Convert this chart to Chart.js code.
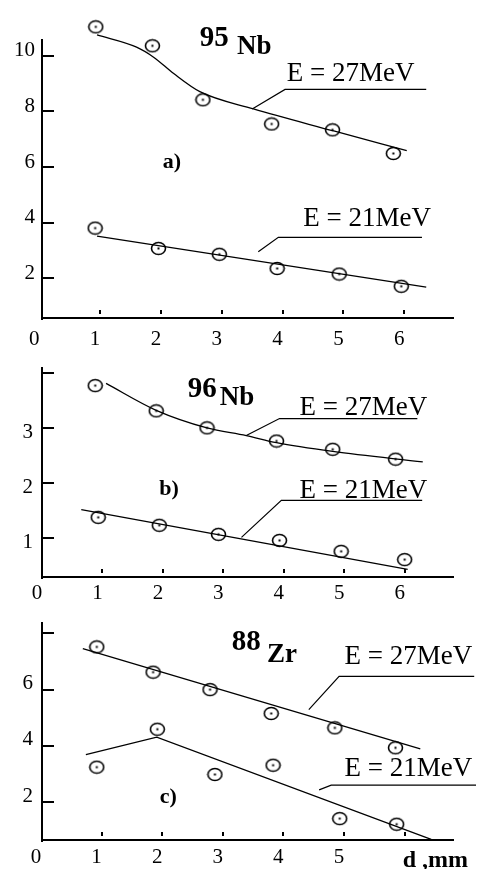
<!DOCTYPE html>
<html>
<head>
<meta charset="utf-8">
<script src="https://cdn.jsdelivr.net/npm/chart.js@4.4.1/dist/chart.umd.min.js"></script>
<style>
  html, body { margin: 0; padding: 0; background: #fff; }
  #wrap { position: relative; width: 480px; height: 869px; overflow: hidden; }
  canvas { position: absolute; left: 0; }
</style>
</head>
<body>
<div id="wrap">
  <canvas id="chartA" width="480" height="345" style="top:0"></canvas>
  <canvas id="chartB" width="480" height="255" style="top:345px"></canvas>
  <canvas id="chartC" width="480" height="269" style="top:600px"></canvas>
</div>
<script>
// a) 95Nb
const a27X = [0.93, 1.86, 2.69, 3.82, 4.82, 5.82];
const a27Y = [11.04, 10.36, 8.42, 7.55, 7.34, 6.49];
const a21X = [0.92, 1.96, 2.96, 3.91, 4.93, 5.95];
const a21Y = [3.81, 3.08, 2.87, 2.36, 2.16, 1.72];
const a27FitX = [0.95, 1.6, 1.88, 2.21, 2.64, 3.52, 4.84, 6.04];
const a27FitY = [10.75, 10.31, 9.95, 9.36, 8.71, 8.09, 7.3, 6.59];
const a21FitX = [0.95, 6.36];
const a21FitY = [3.52, 1.69];

// b) 96Nb
const b27X = [0.88, 1.89, 2.73, 3.88, 4.81, 5.85];
const b27Y = [3.77, 3.31, 3.0, 2.76, 2.61, 2.43];
const b21X = [0.93, 1.94, 2.92, 3.93, 4.95, 6.0];
const b21Y = [1.37, 1.225, 1.06, 0.95, 0.75, 0.6];
const b27FitX = [1.06, 1.89, 2.73, 3.38, 3.88, 4.81, 6.3];
const b27FitY = [3.81, 3.32, 3.0, 2.86, 2.73, 2.57, 2.38];
const b21FitX = [0.65, 6.05];
const b21FitY = [1.51, 0.42];

// c) 88Zr
const c27X = [0.92, 1.85, 2.79, 3.8, 4.85, 5.85];
const c27Y = [7.52, 6.62, 6.0, 5.15, 4.64, 3.93];
const c21X = [0.92, 1.92, 2.87, 3.83, 4.93, 5.87];
const c21Y = [3.24, 4.59, 2.98, 3.31, 1.41, 1.21];
const c27FitX = [0.69, 6.26];
const c27FitY = [7.46, 3.89];
const c21FitX = [0.74, 1.91, 6.44];
const c21FitY = [3.69, 4.31, 0.67];

// ticks
const xMarks = [1, 2, 3, 4, 5, 6];
const abXLabels = [0, 1, 2, 3, 4, 5, 6];
const cXLabels = [0, 1, 2, 3, 4, 5];
const aYTicks = [2, 4, 6, 8, 10];
const aYLabels = [2, 4, 6, 8, 10];
const bYTicks = [1, 2, 3, 4];
const bYLabels = [1, 2, 3];
const cYTicks = [2, 4, 6, 8];
const cYLabels = [2, 4, 6];

const serif = '"Liberation Serif", "DejaVu Serif", serif';

function pts(xs, ys) {
    return xs.map((x, i) => ({ x: x, y: ys[i] }));
}

function makeMarker() {
    const c = document.createElement('canvas');
    c.width = 17; c.height = 15;
    const g = c.getContext('2d');
    g.strokeStyle = '#000';
    g.lineWidth = 1.6;
    g.beginPath();
    g.ellipse(8.5, 7.5, 7, 6, 0, 0, Math.PI * 2);
    g.stroke();
    g.fillStyle = '#000';
    g.fillRect(7.5, 6.5, 2, 2);
    return c;
}
const marker = makeMarker();

function lineDs(xs, ys, curved) {
    return {
        data: pts(xs, ys), showLine: true, pointRadius: 0,
        borderColor: '#000', borderWidth: 1.3,
        cubicInterpolationMode: curved ? 'monotone' : 'default',
        tension: 0, clip: false
    };
}

function markDs(xs, ys) {
    return {
        data: pts(xs, ys), showLine: false,
        pointStyle: marker, pointRadius: 7, clip: false
    };
}

function makePanel(id, cfg) {
    const deco = {
        id: 'deco_' + id,
        afterDraw(chart) {
            const { ctx, chartArea } = chart;
            const x = chart.scales.x, y = chart.scales.y;
            ctx.save();
            ctx.strokeStyle = '#000';
            ctx.fillStyle = '#000';
            // y axis line
            ctx.lineWidth = 2;
            ctx.beginPath();
            ctx.moveTo(chartArea.left, Math.round(y.getPixelForValue(cfg.yAxisTop)));
            ctx.lineTo(chartArea.left, chartArea.bottom + 2);
            ctx.stroke();
            // inward tick marks
            cfg.yTicks.forEach(v => {
                const py = Math.round(y.getPixelForValue(v));
                ctx.beginPath();
                ctx.moveTo(chartArea.left, py);
                ctx.lineTo(chartArea.left + 12, py);
                ctx.stroke();
            });
            xMarks.forEach(v => {
                const px = Math.round(x.getPixelForValue(v));
                ctx.beginPath();
                ctx.moveTo(px, chartArea.bottom - 8);
                ctx.lineTo(px, chartArea.bottom - 4);
                ctx.stroke();
            });
            // leader lines
            ctx.lineWidth = 1.2;
            cfg.leaders.forEach(path => {
                ctx.beginPath();
                path.forEach((p, i) => {
                    const px = x.getPixelForValue(p[0]), py = y.getPixelForValue(p[1]);
                    if (i === 0) ctx.moveTo(px, py); else ctx.lineTo(px, py);
                });
                ctx.stroke();
            });
            // texts
            ctx.textAlign = 'left';
            ctx.textBaseline = 'alphabetic';
            cfg.texts.forEach(t => {
                ctx.font = t.font;
                ctx.fillText(t.text, x.getPixelForValue(t.x), y.getPixelForValue(t.y));
            });
            ctx.restore();
        }
    };

    return new Chart(document.getElementById(id), {
        type: 'scatter',
        data: {
            datasets: [
                lineDs(cfg.fit27[0], cfg.fit27[1], cfg.curve27),
                lineDs(cfg.fit21[0], cfg.fit21[1], false),
                markDs(cfg.p27[0], cfg.p27[1]),
                markDs(cfg.p21[0], cfg.p21[1])
            ]
        },
        options: {
            responsive: false,
            animation: false,
            events: [],
            layout: { padding: { top: cfg.padTop, right: 27, left: 0, bottom: 0 } },
            plugins: { legend: { display: false }, tooltip: { enabled: false } },
            scales: {
                x: {
                    type: 'linear', min: cfg.xMin, max: 6.8,
                    grid: { display: false, drawTicks: false },
                    border: { display: true, color: '#000', width: 2 },
                    afterBuildTicks: s => { s.ticks = cfg.xLabels.map(v => ({ value: v })); },
                    afterFit: s => { s.height = cfg.xHeight; },
                    ticks: {
                        color: '#000', font: { family: serif, size: 21 },
                        padding: cfg.xPad, labelOffset: -5, autoSkip: false, maxRotation: 0
                    }
                },
                y: {
                    type: 'linear', min: cfg.yMin, max: cfg.yMax,
                    grid: { display: false, drawTicks: false },
                    border: { display: false },
                    afterBuildTicks: s => { s.ticks = cfg.yTicks.map(v => ({ value: v })); },
                    afterFit: s => { s.width = 42; },
                    ticks: {
                        color: '#000', font: { family: serif, size: 21 },
                        padding: cfg.yPad, labelOffset: cfg.yOff, autoSkip: false,
                        callback: v => cfg.yLabels.includes(v) ? String(v) : ''
                    }
                }
            }
        },
        plugins: [deco]
    });
}

const eFont = '27px ' + serif;
const tFont = 'bold 29px ' + serif;
const sFont = 'bold 27px ' + serif;
const pFont = 'bold 22px ' + serif;

makePanel('chartA', {
    p27: [a27X, a27Y], p21: [a21X, a21Y],
    fit27: [a27FitX, a27FitY], fit21: [a21FitX, a21FitY], curve27: true,
    xMin: 0.046, yMin: 0.58, yMax: 11.3, yAxisTop: 10.6,
    padTop: 15, xHeight: 27, xPad: 9, yPad: 7, yOff: -5,
    xLabels: abXLabels, yTicks: aYTicks, yLabels: aYLabels,
    leaders: [
        [[3.5, 8.09], [4.04, 8.79], [6.36, 8.79]],
        [[3.6, 2.96], [3.93, 3.48], [6.29, 3.48]]
    ],
    texts: [
        { text: '95', x: 2.64, y: 10.35, font: tFont },
        { text: 'Nb', x: 3.25, y: 10.07, font: sFont },
        { text: 'a)', x: 2.03, y: 5.96, font: pFont },
        { text: 'E = 27MeV', x: 4.07, y: 9.08, font: eFont },
        { text: 'E = 21MeV', x: 4.34, y: 3.87, font: eFont }
    ]
});

makePanel('chartB', {
    p27: [b27X, b27Y], p21: [b21X, b21Y],
    fit27: [b27FitX, b27FitY], fit21: [b21FitX, b21FitY], curve27: true,
    xMin: 0, yMin: 0.283, yMax: 4.116, yAxisTop: 4.116,
    padTop: 5, xHeight: 23, xPad: 4, yPad: 9, yOff: 5,
    xLabels: abXLabels, yTicks: bYTicks, yLabels: bYLabels,
    leaders: [
        [[3.38, 2.86], [3.93, 3.17], [6.21, 3.17]],
        [[3.3, 1.005], [3.96, 1.68], [6.29, 1.68]]
    ],
    texts: [
        { text: '96', x: 2.41, y: 3.56, font: tFont },
        { text: 'Nb', x: 2.94, y: 3.41, font: sFont },
        { text: 'b)', x: 1.94, y: 1.78, font: pFont },
        { text: 'E = 27MeV', x: 4.26, y: 3.24, font: eFont },
        { text: 'E = 21MeV', x: 4.26, y: 1.72, font: eFont }
    ]
});

makePanel('chartC', {
    p27: [c27X, c27Y], p21: [c21X, c21Y],
    fit27: [c27FitX, c27FitY], fit21: [c21FitX, c21FitY], curve27: false,
    xMin: 0.016, yMin: 0.648, yMax: 8.42, yAxisTop: 8.42,
    padTop: 10, xHeight: 29, xPad: 5, yPad: 9, yOff: -6,
    xLabels: cXLabels, yTicks: cYTicks, yLabels: cYLabels,
    leaders: [
        [[4.42, 5.29], [4.92, 6.47], [7.15, 6.47]],
        [[4.59, 2.43], [4.79, 2.6], [7.18, 2.6]]
    ],
    texts: [
        { text: '88', x: 3.15, y: 7.41, font: tFont },
        { text: 'Zr', x: 3.73, y: 7.0, font: sFont },
        { text: 'c)', x: 1.96, y: 1.96, font: pFont },
        { text: 'E = 27MeV', x: 5.01, y: 6.9, font: eFont },
        { text: 'E = 21MeV', x: 5.01, y: 2.94, font: eFont },
        { text: 'd ,mm', x: 5.97, y: -0.3, font: 'bold 24px ' + serif }
    ]
});
</script>
</body>
</html>
